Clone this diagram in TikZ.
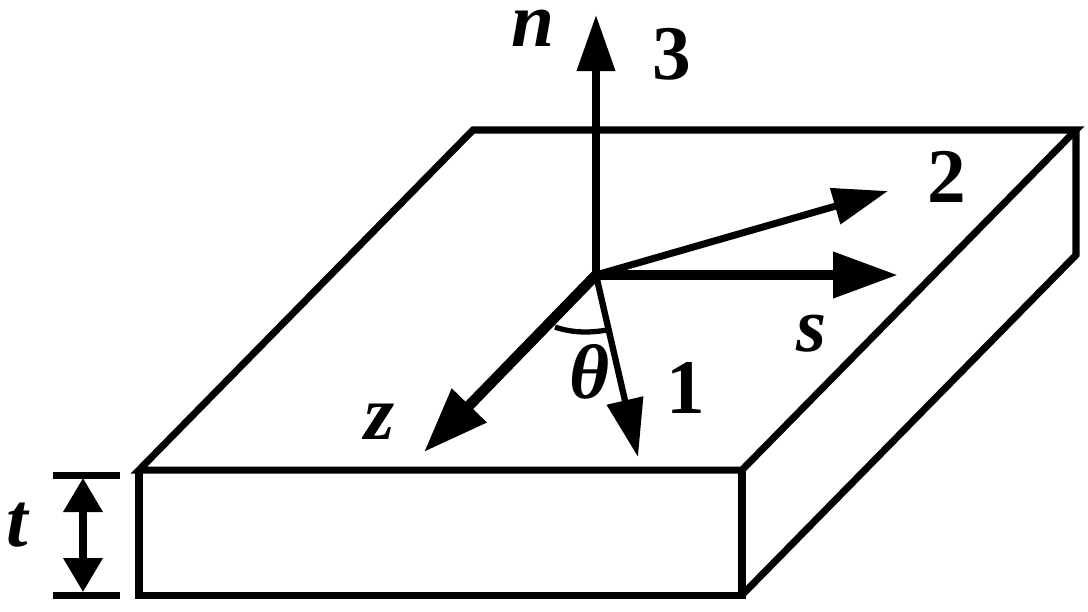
\documentclass[tikz,border=0pt]{standalone}
\usepackage{fontspec}
\setmainfont{Liberation Serif}
\usetikzlibrary{arrows.meta}
\tikzset{
	edge/.style={line width=2pt,line join=miter},
	axis/.style={line width=2pt,-{Triangle[length=0.56cm,width=0.37cm]}},
	lab/.style={font=\fontsize{22}{22}\selectfont\bfseries\itshape,inner sep=0pt},
	num/.style={font=\fontsize{22}{22}\selectfont\bfseries,inner sep=0pt}
}
\begin{document}
\begin{tikzpicture}
			\useasboundingbox (0,0) rectangle (10.88,-6.11);
			\coordinate (o) at (5.96,-2.75);
			\coordinate (a) at (4.73,-1.30);
			\coordinate (b) at (10.76,-1.30);
			\coordinate (c) at (7.42,-4.70);
			\coordinate (d) at (1.39,-4.70);
			\coordinate (e) at (1.39,-5.95);
			\coordinate (f) at (7.42,-5.95);
			\coordinate (g) at (10.76,-2.55);
			\draw[edge] (a) -- (b) -- (c) -- (d) -- cycle;
			\draw[edge] (d) -- (e) -- (f) -- (c);
			\draw[edge] (f) -- (g) -- (b);
			% axes
			\coordinate (n3) at (5.96,-0.15);
			\coordinate (t2) at (8.88,-1.91);
			\coordinate (ts) at (8.98,-2.75);
			\coordinate (t1) at (6.38,-4.57);
			\coordinate (tz) at (4.24,-4.52);
			\draw[axis] (o) -- (n3);
			\draw[line width=2pt,-{Triangle[length=0.55cm,width=0.36cm]}] (o) -- (t2);
			\draw[line width=3pt,-{Triangle[length=0.65cm,width=0.44cm]}] (o) -- (ts);
			\draw[line width=1.8pt,-{Triangle[length=0.58cm,width=0.36cm]}] (o) -- (t1);
			\draw[line width=3pt,-{Triangle[length=0.65cm,width=0.46cm]}] (o) -- (tz);
			\coordinate (p) at (5.55,-3.27);
			\coordinate (q) at (6.07,-3.30);
			\draw[line width=1.5pt] (p) .. controls (5.72,-3.33) and (5.90,-3.33) .. (q);
			% thickness
			\coordinate (k1) at (0.53,-4.75);
			\coordinate (k2) at (1.20,-4.75);
			\coordinate (k3) at (0.53,-5.95);
			\coordinate (k4) at (1.20,-5.95);
			\coordinate (m1) at (0.83,-4.78);
			\coordinate (m2) at (0.83,-5.92);
			\draw[edge] (k1) -- (k2);
			\draw[edge] (k3) -- (k4);
			\draw[line width=2pt,{Triangle[length=0.34cm,width=0.38cm]}-{Triangle[length=0.34cm,width=0.38cm]}] (m1) -- (m2);
			% labels
			\node[lab] (ln) at (5.33,-0.28) {n};
			\node[num] (l3) at (6.72,-0.54) {3};
			\node[num] (l2) at (9.47,-1.77) {2};
			\node[lab] (ls) at (8.12,-3.34) {s};
			\node[num] (l1) at (6.86,-3.88) {1};
			\node[lab] (lth) at (5.90,-3.72) {θ};
			\node[lab] (lz) at (3.80,-4.22) {z};
			\node[lab] (lt) at (0.17,-5.25) {t};
		\end{tikzpicture}
\end{document}
